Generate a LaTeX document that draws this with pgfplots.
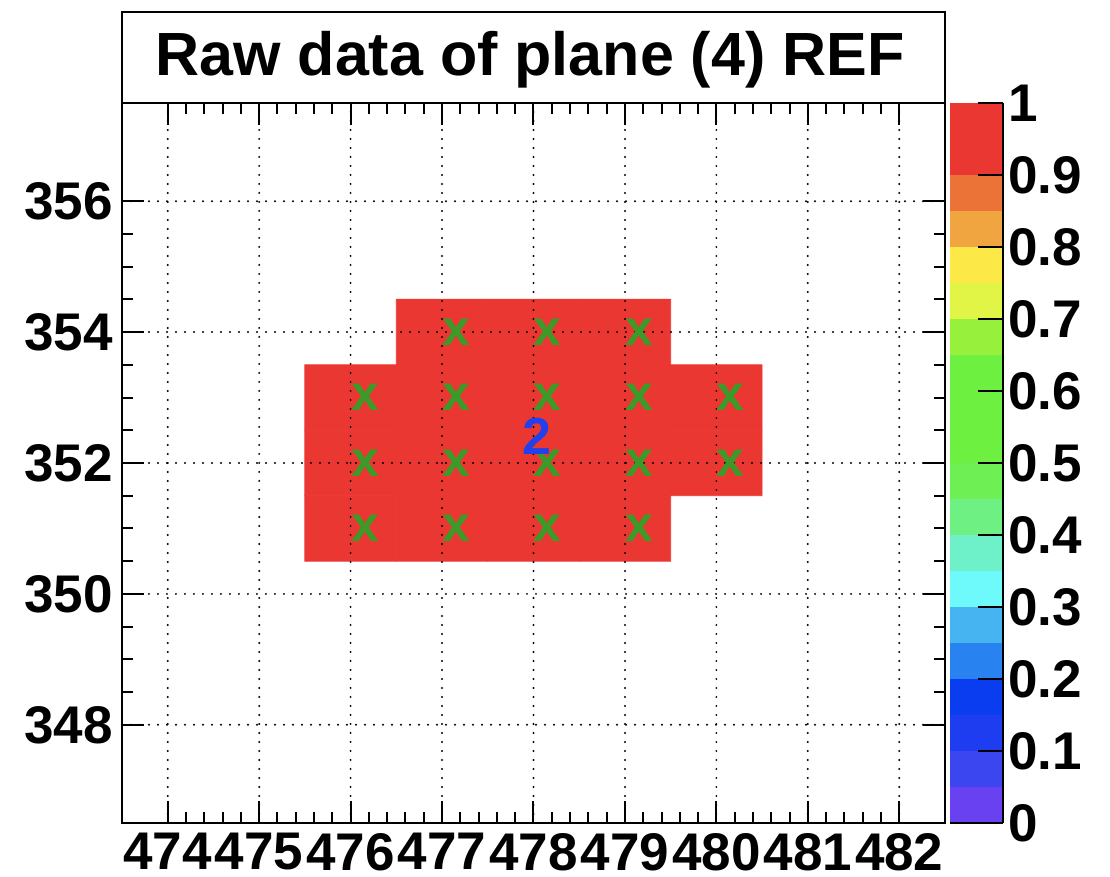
\documentclass[border=0pt]{standalone}
\usepackage{fontspec}
\setmainfont{Liberation Sans}
\usepackage{pgfplots}
\usepackage{pgfplotstable}
\pgfplotsset{compat=1.18}

\definecolor{hitgreen}{RGB}{60,155,40}
\definecolor{clusterblue}{RGB}{35,65,235}

% ROOT-like palette, 20 bands over [0,1]
\pgfplotsset{
  colormap={rootpretty}{
    rgb255(0cm)=(105,65,240)
    rgb255(1cm)=(60,70,240)
    rgb255(2cm)=(30,60,240)
    rgb255(3cm)=(10,60,240)
    rgb255(4cm)=(40,130,240)
    rgb255(5cm)=(70,180,240)
    rgb255(6cm)=(110,250,250)
    rgb255(7cm)=(110,240,200)
    rgb255(8cm)=(110,240,130)
    rgb255(9cm)=(110,240,85)
    rgb255(10cm)=(110,240,65)
    rgb255(11cm)=(110,240,65)
    rgb255(12cm)=(110,240,65)
    rgb255(13cm)=(150,240,60)
    rgb255(14cm)=(225,245,70)
    rgb255(15cm)=(252,232,70)
    rgb255(16cm)=(240,165,65)
    rgb255(17cm)=(235,115,55)
    rgb255(18cm)=(235,55,50)
    rgb255(19cm)=(235,55,50)
    rgb255(20cm)=(235,55,50)
  }
}

% fired pixels (column, row, value); nan = empty
\pgfplotstableread{
x   y   z
476 351 1
477 351 1
478 351 1
479 351 1
480 351 nan
476 352 1
477 352 1
478 352 1
479 352 1
480 352 1
476 353 1
477 353 1
478 353 1
479 353 1
480 353 1
476 354 nan
477 354 1
478 354 1
479 354 1
480 354 nan
}\rawhits

% hit positions
\pgfplotstableread{
x   y
476 351
477 351
478 351
479 351
476 352
477 352
478 352
479 352
480 352
476 353
477 353
478 353
479 353
480 353
477 354
478 354
479 354
}\hitpos

% cluster centroid
\pgfplotstableread{
x      y
477.88 352.41
}\cluster

\newcommand{\ticklabfont}{\fontsize{26.5}{29}\selectfont\bfseries}

\begin{document}
\begin{tikzpicture}
\useasboundingbox (-61pt,-27pt) rectangle (494pt,411.5pt);
\begin{axis}[
  name=main,
  at={(0,0)}, anchor=south west,
  scale only axis, width=411.5pt, height=360pt,
  xmin=473.5, xmax=482.5, ymin=346.5, ymax=357.5,
  xtick={474,...,482}, ytick={348,350,...,356},
  minor x tick num=4, minor y tick num=3,
  tick align=inside,
  major tick length=11pt, minor tick length=5.5pt,
  every tick/.style={black, line width=1pt},
  axis line style={line width=1pt},
  grid=major,
  grid style={black, line width=1.1pt, line cap=round, dash pattern=on 0pt off 4.5pt},
  axis on top,
  colormap name=rootpretty,
  colormap access=piecewise constant,
  point meta min=0, point meta max=1,
  unbounded coords=jump,
  /pgf/number format/assume math mode=true,
  ticklabel style={font=\ticklabfont, inner sep=0pt},
  xticklabel style={yshift=-5pt},
  yticklabel style={xshift=-4.5pt},
  colorbar right,
  colorbar style={
    at={(parent axis.north east)}, anchor=north west, xshift=-6.035pt,
    scale only axis, width=26.5pt, height=360pt,
    ymin=0, ymax=1,
    ytick={0,0.1,...,1.01},
    axis x line*=none,
    axis y line*=right,
    axis line style={line width=1pt},
    tick align=inside,
    major tick length=12.5pt,
    every tick/.style={black, line width=1pt},
    /pgf/number format/assume math mode=true,
    yticklabel style={font=\ticklabfont, inner sep=0pt, xshift=2.5pt,
      /pgf/number format/.cd, fixed, precision=1},
  },
]
\addplot[matrix plot*, mesh/cols=5, point meta=explicit] table[x=x, y=y, meta=z] {\rawhits};

\addplot[draw=none, mark=none,
  nodes near coords={x},
  every node near coord/.append style={anchor=west, inner sep=0pt,
    text=hitgreen, font=\fontsize{25}{28}\selectfont\bfseries}]
  table[x=x, y=y] {\hitpos};

\addplot[draw=none, mark=none,
  nodes near coords={2},
  every node near coord/.append style={anchor=west, inner sep=0pt,
    text=clusterblue, font=\fontsize{26}{29}\selectfont\bfseries}]
  table[x=x, y=y] {\cluster};
\end{axis}

\draw[line width=1pt] (main.north west) rectangle ([yshift=45.5pt]main.north east);
\node[anchor=base, inner sep=0pt, font=\fontsize{30.5}{34}\selectfont\bfseries]
  at (204pt,373.5pt) {Raw data of plane (4) REF};
\end{tikzpicture}
\end{document}
